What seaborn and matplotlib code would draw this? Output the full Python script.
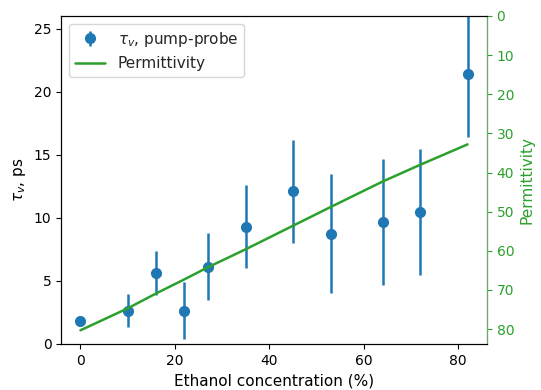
import numpy as np
import pandas as pd
import matplotlib
matplotlib.use('Agg')
import matplotlib.pyplot as plt
import seaborn as sns

# Ethanol concentration (%) and vibrational relaxation time from pump-probe
ethanol = [0, 10, 16, 22, 27, 35, 45, 53, 64, 72, 82]
tau_v = [1.8, 2.64, 5.65, 2.64, 6.12, 9.29, 12.1, 8.74, 9.69, 10.48, 21.38]
tau_err = [0.4, 1.3, 1.75, 2.25, 2.65, 3.3, 4.1, 4.7, 5.0, 5.0, 5.0]

# Static permittivity of the mixtures
permittivity = [80.3, 74.7, 70.9, 67.3, 64.2, 59.6, 53.6, 48.8, 42.3, 38.0, 32.8]

df = pd.DataFrame({'ethanol': ethanol, 'permittivity': permittivity})

sns.set_style('ticks')
plt.rcParams['font.family'] = ['DejaVu Sans']
plt.rcParams['axes.edgecolor'] = 'black'
plt.rcParams['xtick.color'] = 'black'
plt.rcParams['ytick.color'] = 'black'

fig, ax1 = plt.subplots(figsize=(5.41, 3.9), dpi=100)
fig.subplots_adjust(left=0.113, right=0.900, top=0.959, bottom=0.118)

eb = ax1.errorbar(ethanol, tau_v, yerr=tau_err, fmt='o', color='tab:blue',
                  markersize=7, elinewidth=1.8, label=r'$\tau_v$, pump-probe')
ax1.set_ylim(0, 26)
ax1.set_xlabel('Ethanol concentration (%)', fontsize=11, color='black')
ax1.set_ylabel(r'$\tau_v$, ps', fontsize=11, color='black')
ax1.tick_params(labelsize=10)

ax2 = ax1.twinx()
sns.lineplot(data=df, x='ethanol', y='permittivity', ax=ax2, color='tab:green',
             linewidth=1.8, label='Permittivity', legend=False)
ax2.set_ylim(83.8, 0)
ax2.set_ylabel('Permittivity', color='tab:green', fontsize=11)
ax2.tick_params(axis='y', colors='tab:green', labelsize=10)
ax2.spines['right'].set_color('#6aaa6a')
ax2.spines['top'].set_visible(True)
ax1.spines['top'].set_visible(True)
ax1.spines['right'].set_visible(True)

h1, l1 = ax1.get_legend_handles_labels()
h2, l2 = ax2.get_legend_handles_labels()
ax1.legend(h1 + h2, l1 + l2, loc='upper left', fontsize=11)

fig.savefig('out.png', dpi=100)
